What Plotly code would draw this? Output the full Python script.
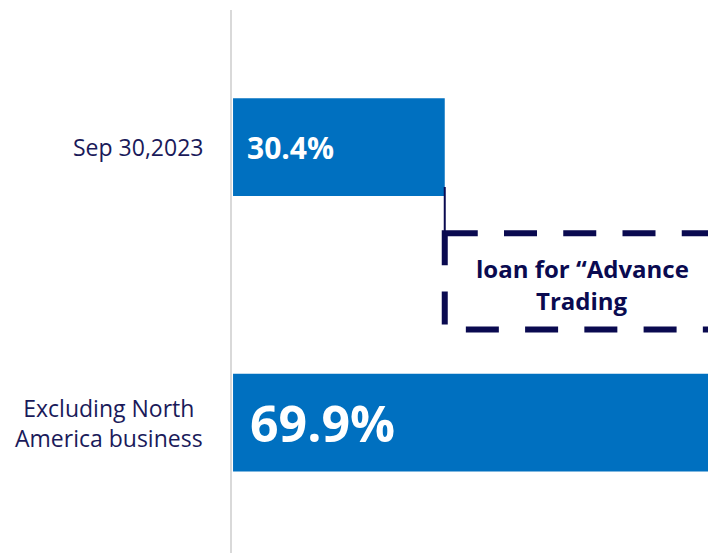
import plotly.graph_objects as go

# Category labels (top to bottom) and their values in percent
categories = ["Sep 30,2023", "loan for “Advance<br>Trading", "Excluding North<br>America business"]
start_value = 30.4
end_value = 69.9
bar_values = [start_value, end_value - start_value, end_value]
bar_bases = [0, start_value, 0]

BLUE = "#0070C0"
NAVY = "#0a0a50"
LABEL = "#1a1a5a"
FONT = "Open Sans"

fig = go.Figure()

# Solid bars for the two totals, a white step bar for the loan in between
fig.add_trace(go.Bar(
    y=categories,
    x=bar_values,
    base=bar_bases,
    orientation="h",
    marker=dict(color=[BLUE, "white", BLUE], line=dict(width=0)),
    hoverinfo="skip",
))

# Dashed outline around the loan step
half = 0.35
shift = -0.025
fig.add_shape(
    type="rect",
    xref="x", yref="y",
    x0=bar_bases[1], x1=bar_bases[1] + bar_values[1],
    y0=1 - half + shift, y1=1 + half + shift,
    line=dict(color=NAVY, width=6, dash="33px,26.25px"),
    fillcolor="rgba(0,0,0,0)",
    layer="above",
)

# Connector from the end of the first bar down to the loan step
fig.add_shape(
    type="line",
    xref="x", yref="y",
    x0=start_value, x1=start_value,
    y0=0 + 0.29, y1=1 - half + shift,
    line=dict(color=NAVY, width=2),
    layer="above",
)

annotations = []

# Category labels to the left of the axis
for i in (0, 2):
    annotations.append(dict(
        xref="paper", yref="y", x=0, y=i,
        xanchor="right", yanchor="middle", align="center",
        xshift=-27,
        text=categories[i], showarrow=False,
        font=dict(family=FONT, size=23, color=LABEL),
    ))

# Loan label centred in the dashed step
loan_lines = categories[1].split("<br>")
for j, ln in enumerate(loan_lines):
    annotations.append(dict(
        xref="x", yref="y", x=bar_bases[1] + bar_values[1] / 2, y=1,
        xanchor="center", yanchor="middle",
        yshift=((len(loan_lines) - 1) / 2 - j) * 32,
        text="<b>" + ln + "</b>", showarrow=False,
        font=dict(family=FONT, size=24, color=NAVY),
    ))

# Value labels inside the solid bars
for i, size, pad in [(0, 30, 12), (2, 50, 15)]:
    annotations.append(dict(
        xref="x", yref="y", x=0, y=i,
        xanchor="left", yanchor="middle", xshift=pad,
        text=f"<b>{bar_values[i]:.1f}%</b>", showarrow=False,
        font=dict(family=FONT, size=size, color="white"),
    ))

fig.update_layout(
    width=708, height=553,
    margin=dict(l=232, r=0, t=10, b=0),
    paper_bgcolor="white", plot_bgcolor="white",
    showlegend=False,
    bargap=0.29,
    annotations=annotations,
    xaxis=dict(range=[-0.15, 68.2], visible=False, fixedrange=True),
    yaxis=dict(
        type="category",
        categoryorder="array", categoryarray=categories,
        range=[2.947, -0.995],
        showticklabels=False, ticks="",
        showgrid=False, zeroline=False,
        showline=True, linecolor="#d9d9d9", linewidth=2,
        layer="above traces",
        fixedrange=True,
    ),
)

fig.write_html("out.html")
